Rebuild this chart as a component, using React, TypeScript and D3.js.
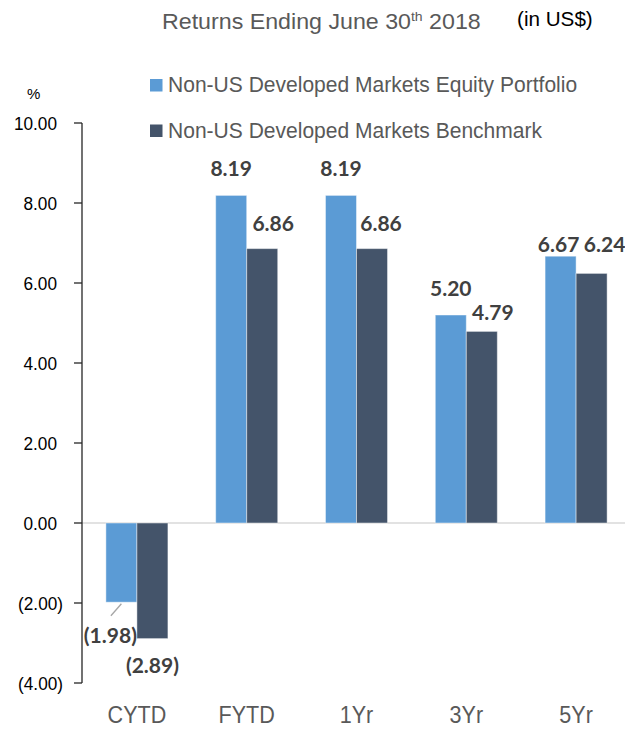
import React from "react";
import * as d3 from "d3";

const categories = ["CYTD", "FYTD", "1Yr", "3Yr", "5Yr"];
const seriesNames = [
  "Non-US Developed Markets Equity Portfolio",
  "Non-US Developed Markets Benchmark",
];
const portfolio = [-1.98, 8.19, 8.19, 5.2, 6.67];
const benchmark = [-2.89, 6.86, 6.86, 4.79, 6.24];
const yTicks = [-4, -2, 0, 2, 4, 6, 8, 10];

const W = 625;
const H = 735;
const SANS = "'Liberation Sans', Arial, sans-serif";
const LABELFONT = "Lato, 'Open Sans', sans-serif";
const colors = ["#5B9BD5", "#44546A"];

const fmt = (v: number) =>
  v < 0 ? `(${d3.format(".2f")(-v)})` : d3.format(".2f")(v);

export default function App() {
  const y = d3.scaleLinear().domain([-4, 10]).range([683, 123]);
  const x0 = d3
    .scaleBand<string>()
    .domain(categories)
    .range([82, 631])
    .paddingInner(0.435)
    .paddingOuter(0.2175);
  const x1 = d3
    .scaleBand<number>()
    .domain([0, 1])
    .range([0, x0.bandwidth()]);

  const series = [portfolio, benchmark];

  // label nudges (dx, dy) relative to default placement
  const nudge: Record<string, [number, number]> = {
    "1Yr-1": [-2, 0],
    "3Yr-1": [0, 7],
    "5Yr-0": [-2, 15],
    "5Yr-1": [2, -3],
  };

  return (
    <svg
      width={W}
      height={H}
      style={{ position: "absolute", left: 0, top: 0, background: "#fff" }}
    >
      {/* title */}
      <text
        transform="translate(162,29) scale(1.08,1)"
        fontFamily={SANS}
        fontSize={21.5}
        fill="#595959"
      >
        Returns Ending June 30
        <tspan fontSize={13} dy={-8}>
          th
        </tspan>
        <tspan dy={8}> 2018</tspan>
      </text>
      <text
        transform="translate(517,26) scale(1.06,1)"
        fontFamily={SANS}
        fontSize={19.5}
        fill="#000"
      >
        (in US$)
      </text>

      {/* legend */}
      {seriesNames.map((name, i) => (
        <g key={name} transform={`translate(150, ${79 + i * 45.5})`}>
          <rect width={12.5} height={12.5} fill={colors[i]} />
          <text
            transform="translate(18,13) scale(0.97,1)"
            fontFamily={SANS}
            fontSize={21.7}
            fill="#595959"
          >
            {name}
          </text>
        </g>
      ))}

      {/* % */}
      <text x={27} y={99} fontFamily={SANS} fontSize={15} fill="#000">
        %
      </text>

      {/* zero line */}
      <line
        x1={82}
        x2={631}
        y1={y(0)}
        y2={y(0)}
        stroke="#D9D9D9"
        strokeWidth={1.5}
      />

      {/* bars */}
      {categories.map((c, ci) =>
        series.map((s, si) => {
          const v = s[ci];
          const bx = (x0(c) ?? 0) + (x1(si) ?? 0);
          return (
            <rect
              key={c + si}
              x={bx}
              width={x1.bandwidth()}
              y={Math.min(y(v), y(0))}
              height={Math.abs(y(v) - y(0))}
              fill={colors[si]}
              stroke="#ffffff"
              strokeOpacity={0.45}
              strokeWidth={1}
            />
          );
        })
      )}

      {/* y axis */}
      <line x1={82} x2={82} y1={y(10)} y2={y(-4)} stroke="#262626" strokeWidth={1.3} />
      {yTicks.map((t) => (
        <g key={t}>
          <line x1={74} x2={82} y1={y(t)} y2={y(t)} stroke="#262626" strokeWidth={1.3} />
          <text
            transform={`translate(${t < 0 ? 63 : 57},${y(t)}) scale(0.93,1)`}
            dy="0.36em"
            textAnchor="end"
            fontFamily={SANS}
            fontSize={18.5}
            fill="#000"
          >
            {fmt(t)}
          </text>
        </g>
      ))}

      {/* data labels */}
      {categories.map((c, ci) =>
        series.map((s, si) => {
          const v = s[ci];
          const cx = (x0(c) ?? 0) + (x1(si) ?? 0) + x1.bandwidth() / 2;
          const [ndx, ndy] = nudge[`${c}-${si}`] ?? [0, 0];
          let lx: number;
          let ly: number;
          if (v >= 0) {
            lx = cx + (si === 1 ? 11 : 0);
            ly = y(v) - (si === 1 ? 18 : 19);
          } else {
            lx = cx + (si === 0 ? -11 : 0);
            ly = y(v) + (si === 0 ? 41 : 34);
          }
          lx += ndx;
          ly += ndy;
          return (
            <text
              key={"l" + c + si}
              x={lx}
              y={ly}
              textAnchor="middle"
              fontFamily={LABELFONT}
              fontWeight={700}
              fontSize={21}
              fill="#404040"
            >
              {fmt(v)}
            </text>
          );
        })
      )}
      {/* leader line for CYTD portfolio */}
      {(() => {
        const bx = (x0("CYTD") ?? 0) + (x1(0) ?? 0) + x1.bandwidth() / 2;
        const by = y(portfolio[0]);
        return (
          <line
            x1={bx}
            y1={by + 1.5}
            x2={bx - 10.5}
            y2={by + 13.5}
            stroke="#A6A6A6"
            strokeWidth={1.3}
          />
        );
      })()}

      {/* x axis labels */}
      {categories.map((c) => (
        <text
          key={"x" + c}
          transform={`translate(${(x0(c) ?? 0) + x0.bandwidth() / 2},723) scale(0.88,1)`}
          textAnchor="middle"
          fontFamily={SANS}
          fontSize={24.5}
          fill="#595959"
        >
          {c}
        </text>
      ))}
    </svg>
  );
}
